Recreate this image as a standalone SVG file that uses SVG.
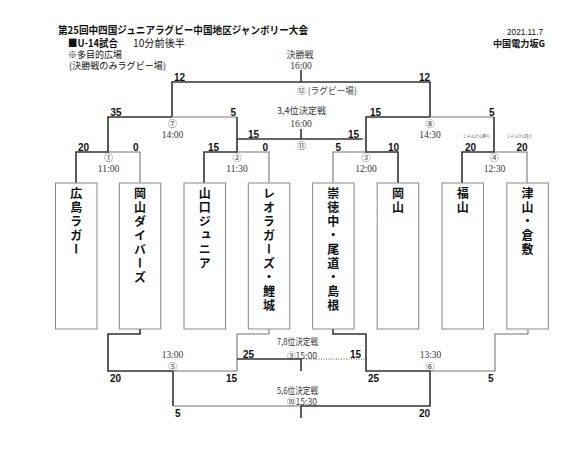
<svg xmlns="http://www.w3.org/2000/svg" width="573" height="449" viewBox="0 0 573 449">
<style>
.hd{font-family:"Noto Sans CJK JP","Noto Sans",sans-serif;fill:#111}
.sc{font-family:"Liberation Sans",Arial,sans-serif;font-weight:bold;font-size:10px;fill:#111}
.tm{font-family:"Liberation Serif","Noto Sans CJK JP",serif;font-size:9.5px;fill:#333;text-anchor:middle}
.cn{font-family:"Noto Sans CJK JP",sans-serif;font-size:9px;fill:#444;text-anchor:middle}
.lb{font-family:"Noto Sans CJK JP",sans-serif;font-size:9px;fill:#333;text-anchor:middle}
.sm{font-family:"Noto Sans CJK JP",sans-serif;font-size:4px;fill:#555}
.box rect{fill:#fff;stroke:#888;stroke-width:1}
.box text{font-family:"Noto Sans CJK JP",sans-serif;font-weight:bold;font-size:12px;writing-mode:vertical-rl;letter-spacing:2px;fill:#111}
.w{stroke:#333;stroke-width:1.6;fill:none}
.t{stroke:#777;stroke-width:1.1;fill:none}
.d{stroke:#555;stroke-width:1;stroke-dasharray:1 1.5;fill:none}
</style>

<g id="header">
<text class="hd" x="58" y="34" font-size="10.5" font-weight="bold" textLength="250" lengthAdjust="spacingAndGlyphs">第25回中四国ジュニアラグビー中国地区ジャンボリー大会</text>
<text class="hd" x="68" y="47" font-size="10.5" font-weight="bold" textLength="50" lengthAdjust="spacingAndGlyphs">■U-14試合</text>
<text class="hd" x="133" y="47" font-size="10.5" textLength="52" lengthAdjust="spacingAndGlyphs">10分前後半</text>
<text class="hd" x="68" y="58" font-size="9.5" textLength="54" lengthAdjust="spacingAndGlyphs">※多目的広場</text>
<text class="hd" x="69" y="69" font-size="9" textLength="97" lengthAdjust="spacingAndGlyphs">(決勝戦のみラグビー場)</text>
<text x="543" y="35" font-family="Liberation Sans, Arial, sans-serif" font-size="9" fill="#111" text-anchor="end" textLength="36" lengthAdjust="spacingAndGlyphs">2021.11.7</text>
<text class="hd" x="545" y="47" font-size="9.5" font-weight="bold" text-anchor="end" textLength="52" lengthAdjust="spacingAndGlyphs">中国電力坂G</text>
</g>

<g id="connectors">
<!-- final -->
<path class="w" d="M301 70V82"/>
<path class="w" d="M172 117V82H430V117"/>
<!-- first round winners -->
<path class="w" d="M76 183V152H108V117H172"/>
<path class="w" d="M204 183V152H237V117"/>
<path class="w" d="M398 183V152H366V117H430"/>
<path class="w" d="M462 183V152H494V117"/>
<!-- first round losers -->
<path class="t" d="M140 183V152H108"/>
<path class="t" d="M269 183V152H237"/>
<path class="t" d="M333 183V152H366"/>
<path class="t" d="M527 183V152H494"/>
<path class="t" d="M172 117H237"/>
<path class="t" d="M430 117H494"/>
<!-- 3,4 -->
<path class="w" d="M237 139H362"/>
<path class="w" d="M301 129V139"/>
<path class="d" d="M362 139H366"/>
<!-- bottom: 5 -->
<path class="w" d="M140 329V334H108V371H173V406"/>
<path class="t" d="M173 371H237"/>
<path class="t" d="M269 329V334H237V371"/>
<!-- 7,8 -->
<path class="w" d="M237 359H301V371"/>
<path class="d" d="M301 359H366"/>
<!-- 6 -->
<path class="w" d="M333 329V334H366V371H430V406H301V418"/>
<path class="t" d="M430 371H495V334H528V329"/>
<path class="t" d="M173 406H301"/>
</g>

<g id="teams">
<g id="team1" class="box"><rect x="55.5" y="183" width="41.5" height="146"/><text x="76.2" y="187">広島ラガー</text></g>
<g id="team2" class="box"><rect x="119.3" y="183" width="41.5" height="146"/><text x="140" y="187">岡山ダイバーズ</text></g>
<g id="team3" class="box"><rect x="184" y="183" width="41.5" height="146"/><text x="204.8" y="187">山口ジュニア</text></g>
<g id="team4" class="box"><rect x="248.3" y="183" width="41.5" height="146"/><text x="269" y="187">レオラガーズ・鯉城</text></g>
<g id="team5" class="box"><rect x="312.6" y="183" width="41.5" height="146"/><text x="333.3" y="187">崇徳中・尾道・島根</text></g>
<g id="team6" class="box"><rect x="377.2" y="183" width="41.5" height="146"/><text x="398" y="187">岡山</text></g>
<g id="team7" class="box"><rect x="442" y="183" width="41.5" height="146"/><text x="462.8" y="187">福山</text></g>
<g id="team8" class="box"><rect x="506.8" y="183" width="41.5" height="146"/><text x="527.6" y="187">津山・倉敷</text></g>
</g>

<g id="scores">
<text class="sc" x="174" y="81">12</text>
<text class="sc" x="419" y="81">12</text>
<text class="sc" x="110.5" y="116">35</text>
<text class="sc" x="230.5" y="116">5</text>
<text class="sc" x="370" y="116">15</text>
<text class="sc" x="489" y="116">5</text>
<text class="sc" x="248" y="138">15</text>
<text class="sc" x="348" y="138">15</text>
<text class="sc" x="78" y="151">20</text>
<text class="sc" x="133" y="151">0</text>
<text class="sc" x="208" y="151">15</text>
<text class="sc" x="262.5" y="151">0</text>
<text class="sc" x="335.5" y="151">5</text>
<text class="sc" x="388" y="151">10</text>
<text class="sc" x="465" y="151">20</text>
<text class="sc" x="516.5" y="151">20</text>
<text class="sc" x="243" y="357.5">25</text>
<text class="sc" x="350" y="357.5">15</text>
<text class="sc" x="110" y="381.5">20</text>
<text class="sc" x="226" y="381.5">15</text>
<text class="sc" x="368" y="381.5">25</text>
<text class="sc" x="488" y="381.5">5</text>
<text class="sc" x="175" y="416.5">5</text>
<text class="sc" x="419" y="416.5">20</text>
</g>

<g id="labels">
<text class="lb" x="300" y="58">決勝戦</text>
<text class="tm" x="301" y="68.5">16:00</text>
<text class="cn" x="297" y="93.5" text-anchor="start" style="text-anchor:start" textLength="60" lengthAdjust="spacingAndGlyphs">⑫ (ラグビー場)</text>
<text class="cn" x="172.5" y="126.7">⑦</text>
<text class="tm" x="172.5" y="137.5">14:00</text>
<text class="cn" x="430" y="126.7">⑧</text>
<text class="tm" x="430" y="137.5">14:30</text>
<text class="lb" x="301.5" y="114" textLength="49" lengthAdjust="spacingAndGlyphs">3,4位決定戦</text>
<text class="tm" x="301" y="127">16:00</text>
<text class="cn" x="301.5" y="148.5">⑪</text>
<text class="cn" x="108.5" y="161">①</text>
<text class="tm" x="108.5" y="172">11:00</text>
<text class="cn" x="237" y="161">②</text>
<text class="tm" x="237" y="172">11:30</text>
<text class="cn" x="366" y="161">③</text>
<text class="tm" x="366" y="172">12:00</text>
<text class="cn" x="494.5" y="161">④</text>
<text class="tm" x="494.5" y="172">12:30</text>
<text class="sm" x="463" y="137.5" textLength="27" lengthAdjust="spacingAndGlyphs">じゃんけん勝ち</text>
<text class="sm" x="507" y="137.5" textLength="25" lengthAdjust="spacingAndGlyphs">じゃんけん負け</text>
<text class="tm" x="172.5" y="357.5">13:00</text>
<text class="cn" x="172.7" y="370">⑤</text>
<text class="tm" x="430.5" y="357.5">13:30</text>
<text class="cn" x="430" y="370">⑥</text>
<text class="lb" x="297.5" y="345" textLength="41" lengthAdjust="spacingAndGlyphs">7,8位決定戦</text>
<text class="cn" x="287" y="358.5" style="text-anchor:start" textLength="30" lengthAdjust="spacingAndGlyphs">⑨15:00</text>
<text class="lb" x="297.5" y="393.5" textLength="41" lengthAdjust="spacingAndGlyphs">5,6位決定戦</text>
<text class="cn" x="287" y="405" style="text-anchor:start" textLength="30" lengthAdjust="spacingAndGlyphs">⑩15:30</text>
</g>
</svg>
